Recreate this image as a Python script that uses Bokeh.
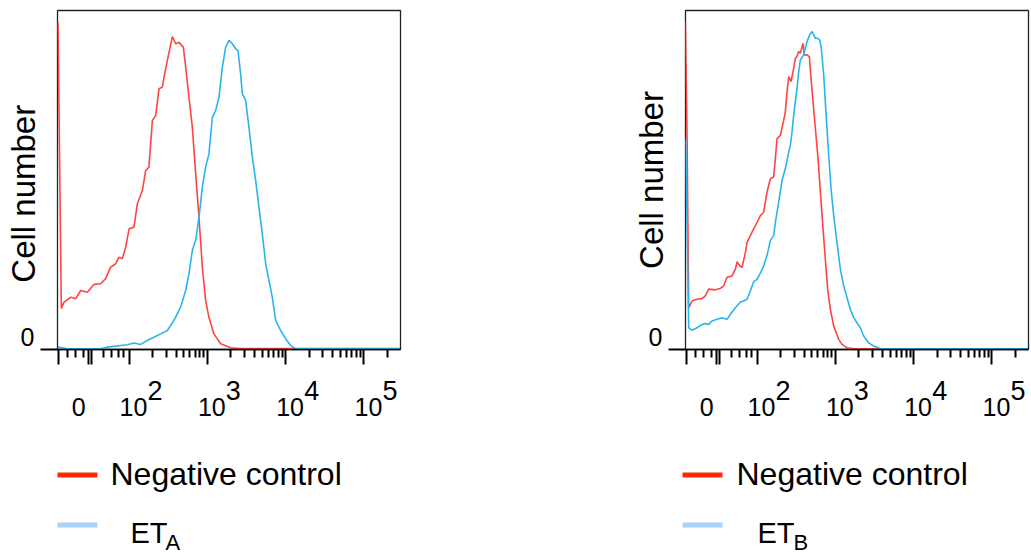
from bokeh.plotting import figure
from bokeh.models import Range1d, LinearAxis, FixedTicker
from bokeh.layouts import row, column
from bokeh.embed import file_html
from bokeh.resources import INLINE
from bokeh.core.properties import value
import numpy as np

FONT = "Liberation Sans"
RED = "#ff4444"
BLUE = "#2ab4ee"
RED_KEY = "#ff2a00"
BLUE_KEY = "#a9d4f8"

# ---- axis (display units: 2 = 10^2, 3 = 10^3, ...) ----
x_major_ticks = [1.105, 1.48, 1.525, 2, 3, 4, 5]
x_minor_ticks = [1.212, 1.318, 1.424, 1.67, 1.775, 1.871, 1.925] + \
    [k + np.log10(m) for k in (2, 3, 4) for m in range(2, 10)] + [5 + np.log10(2)]
x_label_pos = [1.358, 2.057, 3.057, 4.057, 5.057]
x_label_text = ["0", "10", "10", "10", "10"]
x_exp_pos = [2.332, 3.332, 4.332, 5.332]
x_exp_text = ["2", "3", "4", "5"]
y_tick_pos = [0]
y_label_pos = [3.6]
y_label_text = ["0"]
y_label = "Cell number"
legend_labels = ["Negative control", "ET"]
legend_subs = ["A", "B"]

# ---- left panel data ----
left_neg_x = [1.092, 1.135, 1.169, 1.254, 1.318, 1.382, 1.467, 1.552, 1.637, 1.701, 1.765, 1.829, 1.871, 1.914,
              1.957, 2.000, 2.063, 2.106, 2.170, 2.212, 2.254, 2.298, 2.340, 2.382, 2.425, 2.446, 2.489, 2.553,
              2.595, 2.637, 2.693, 2.723, 2.765, 2.808, 2.851, 2.893, 2.936, 2.978, 3.020, 3.084, 3.170, 3.298,
              3.425, 4.102, 5.460]
left_neg_y = [96.5, 12.1, 14.0, 15.4, 15.0, 17.4, 16.9, 19.2, 19.4, 20.9, 24.3, 25.3, 27.2, 26.8, 30.2, 35.6,
              36.1, 43.0, 46.9, 52.8, 53.8, 67.6, 69.0, 76.9, 77.4, 80.3, 85.3, 92.3, 90.2, 90.6, 89.2, 83.3,
              74.4, 65.6, 51.8, 39.0, 24.3, 14.5, 9.5, 4.6, 1.7, 0.5, 0.3, 0.3, 0.3]
left_eta_x = [1.092, 1.212, 1.637, 1.723, 1.893, 1.978, 2.063, 2.106, 2.148, 2.234, 2.318, 2.404, 2.489, 2.573,
              2.659, 2.723, 2.765, 2.808, 2.851, 2.893, 2.936, 2.978, 3.020, 3.064, 3.106, 3.148, 3.192, 3.234,
              3.276, 3.319, 3.361, 3.391, 3.425, 3.447, 3.489, 3.531, 3.575, 3.617, 3.659, 3.702, 3.745, 3.787,
              3.830, 3.872, 3.936, 4.000, 4.064, 4.128, 5.460]
left_eta_y = [0.7, 0.2, 0.2, 0.7, 1.2, 1.4, 1.9, 1.7, 1.5, 2.7, 3.6, 4.6, 5.6, 8.6, 12.5, 17.4, 22.3, 29.2,
              32.2, 39.0, 47.9, 53.8, 57.7, 68.5, 70.5, 74.4, 83.3, 89.2, 91.2, 90.2, 88.7, 88.2, 81.3, 75.4,
              73.5, 65.6, 56.7, 49.9, 42.0, 34.1, 25.3, 20.4, 15.4, 8.6, 5.6, 3.2, 1.2, 0.2, 0.2]

# ---- right panel data ----
right_neg_x = [1.084, 1.106, 1.127, 1.169, 1.233, 1.297, 1.339, 1.382, 1.467, 1.531, 1.574, 1.616, 1.680, 1.723,
               1.744, 1.778, 1.808, 1.851, 1.872, 1.936, 1.978, 2.042, 2.085, 2.127, 2.170, 2.212, 2.234, 2.255,
               2.298, 2.340, 2.361, 2.383, 2.404, 2.434, 2.468, 2.489, 2.510, 2.532, 2.553, 2.587, 2.604, 2.638,
               2.668, 2.689, 2.715, 2.745, 2.779, 2.809, 2.843, 2.872, 2.902, 2.936, 2.979, 3.043, 3.085, 3.149,
               3.234, 5.460]
right_neg_y = [96.7, 63.2, 12.3, 14.3, 14.8, 15.0, 15.8, 17.8, 17.6, 18.0, 18.8, 21.3, 21.7, 23.7, 25.9, 24.7,
               24.2, 28.6, 31.6, 34.6, 36.5, 39.5, 40.5, 46.4, 50.4, 50.9, 56.3, 62.2, 63.2, 67.6, 70.1, 76.0,
               80.5, 79.0, 82.9, 85.9, 86.4, 87.9, 87.4, 90.3, 86.9, 86.9, 86.4, 80.0, 73.1, 65.2, 56.3, 46.4,
               35.5, 26.7, 17.8, 11.9, 6.9, 3.0, 1.5, 0.5, 0.2, 0.2]
right_etb_x = [1.088, 1.127, 1.169, 1.233, 1.297, 1.339, 1.382, 1.425, 1.489, 1.553, 1.616, 1.659, 1.723, 1.787,
               1.829, 1.872, 1.914, 1.957, 2.000, 2.042, 2.085, 2.127, 2.170, 2.212, 2.234, 2.276, 2.319, 2.361,
               2.404, 2.425, 2.447, 2.468, 2.489, 2.510, 2.532, 2.553, 2.596, 2.638, 2.672, 2.702, 2.723, 2.745,
               2.774, 2.800, 2.821, 2.851, 2.885, 2.915, 2.945, 2.979, 3.021, 3.064, 3.106, 3.149, 3.191, 3.234,
               3.276, 3.319, 3.362, 3.425, 3.490, 3.575, 3.660, 5.460]
right_etb_y = [62.0, 6.4, 5.7, 6.4, 7.4, 7.7, 7.4, 8.4, 8.9, 9.4, 8.9, 10.4, 12.3, 14.0, 14.3, 14.8, 17.3, 20.0,
               20.7, 22.5, 24.7, 27.7, 32.1, 33.6, 37.5, 43.4, 49.9, 53.3, 58.2, 60.2, 64.2, 69.1, 73.1, 77.0,
               81.9, 85.4, 86.9, 90.8, 92.8, 93.8, 92.8, 91.8, 91.8, 91.3, 88.8, 81.0, 68.1, 57.3, 47.4, 39.5,
               31.6, 23.7, 18.8, 15.3, 11.9, 9.4, 7.9, 6.4, 4.0, 2.0, 1.0, 0.2, 0.2, 0.2]

XMIN, XMAX = 1.086, 5.467
YMIN, YMAX = 0, 100
MAIN_H = 428
LEG_H = 555 - MAIN_H
NBSP = "\u00a0"


def no_ticks(axis):
    axis.major_tick_out = 0
    axis.major_tick_in = 0
    axis.minor_tick_out = 0
    axis.minor_tick_in = 0
    axis.major_tick_line_color = None
    axis.minor_tick_line_color = None
    axis.axis_line_color = None


def make_panel(neg_x, neg_y, s_x, s_y, width, border_right, title_pad):
    p = figure(width=width, height=MAIN_H, x_range=Range1d(XMIN, XMAX), y_range=Range1d(YMIN, YMAX),
               x_axis_type=None, y_axis_type=None, output_backend="svg", toolbar_location=None,
               min_border_left=57, min_border_right=border_right, min_border_top=10,
               min_border_bottom=MAIN_H - 10 - 339)
    p.outline_line_color = "#222222"
    p.outline_line_width = 1.3
    p.background_fill_color = "white"
    p.border_fill_color = "white"

    p.line(neg_x, neg_y, line_color=RED, line_width=1.6)
    p.line(s_x, s_y, line_color=BLUE, line_width=1.6)

    # x: tick marks
    xa = LinearAxis(ticker=FixedTicker(ticks=x_major_ticks, minor_ticks=x_minor_ticks),
                    major_tick_out=15, major_tick_in=0, minor_tick_out=8, minor_tick_in=0,
                    major_tick_line_width=2, minor_tick_line_width=2,
                    major_tick_line_color="black", minor_tick_line_color="black",
                    axis_line_color="black", axis_line_width=1.5,
                    major_label_text_color=None, major_label_standoff=0)
    p.add_layout(xa, "below")
    # x: exponents
    xe = LinearAxis(ticker=FixedTicker(ticks=x_exp_pos, minor_ticks=[]),
                    major_label_overrides={pos: txt for pos, txt in zip(x_exp_pos, x_exp_text)},
                    major_label_standoff=16, major_label_text_font_size="27px",
                    major_label_text_font=FONT, major_label_text_color="black")
    no_ticks(xe)
    p.add_layout(xe, "below")
    # x: "0" / "10" labels
    xl = LinearAxis(ticker=FixedTicker(ticks=x_label_pos, minor_ticks=[]),
                    major_label_overrides={pos: txt for pos, txt in zip(x_label_pos, x_label_text)},
                    major_label_standoff=-5, major_label_text_font_size="25px",
                    major_label_text_font=FONT, major_label_text_color="black")
    no_ticks(xl)
    p.add_layout(xl, "below")

    # y: tick mark at 0
    ya = LinearAxis(ticker=FixedTicker(ticks=y_tick_pos, minor_ticks=[]),
                    major_tick_out=17, major_tick_in=0, major_tick_line_width=2,
                    major_tick_line_color="black", axis_line_color=None,
                    major_label_text_color=None, major_label_standoff=0)
    p.add_layout(ya, "left")
    # y: "0" label and axis title
    yl = LinearAxis(ticker=FixedTicker(ticks=y_label_pos, minor_ticks=[]),
                    major_label_overrides={pos: txt for pos, txt in zip(y_label_pos, y_label_text)},
                    major_label_standoff=6, major_label_text_font_size="25px",
                    major_label_text_font=FONT, major_label_text_color="black",
                    axis_label=y_label + NBSP * title_pad, axis_label_text_font=FONT,
                    axis_label_text_font_size="33px", axis_label_text_line_height=1.0,
                    axis_label_text_font_style="normal", axis_label_text_color="black",
                    axis_label_standoff=-24)
    no_ticks(yl)
    p.add_layout(yl, "left")
    return p


def make_legend(width, sx0, text_x, et_x, sub_x, sub):
    top = MAIN_H
    lg = figure(width=width, height=LEG_H, x_range=Range1d(0, width), y_range=Range1d(top + LEG_H, top),
                x_axis_type=None, y_axis_type=None, output_backend="svg", toolbar_location=None,
                min_border=0, outline_line_color=None)
    lg.segment(x0=[sx0, sx0], y0=[474.5, 524.5], x1=[sx0 + 40, sx0 + 40], y1=[474.5, 524.5],
               line_color=[RED_KEY, BLUE_KEY], line_width=5)
    lg.text(x=[text_x], y=[473.5], text=[legend_labels[0]], text_font=value(FONT),
            text_font_size="32px", text_baseline="middle", text_align="left", text_color="black")
    lg.text(x=[et_x], y=[532.5], text=[legend_labels[1]], text_font=value(FONT),
            text_font_size="29px", text_baseline="middle", text_align="left", text_color="black")
    lg.text(x=[sub_x], y=[541.5], text=[sub], text_font=value(FONT),
            text_font_size="22px", text_baseline="middle", text_align="left", text_color="black")
    return lg


p1 = make_panel(left_neg_x, left_neg_y, left_eta_x, left_eta_y, 628, 628 - 57 - 343, 3)
p2 = make_panel(right_neg_x, right_neg_y, right_etb_x, right_etb_y, 403, 403 - 57 - 343, 0)
l1 = make_legend(628, 57, 110, 130, 165, legend_subs[0])
l2 = make_legend(403, 54, 108, 129, 165, legend_subs[1])

layout = column(row(p1, p2), row(l1, l2))
open("out.html", "w").write(file_html(layout, INLINE))
